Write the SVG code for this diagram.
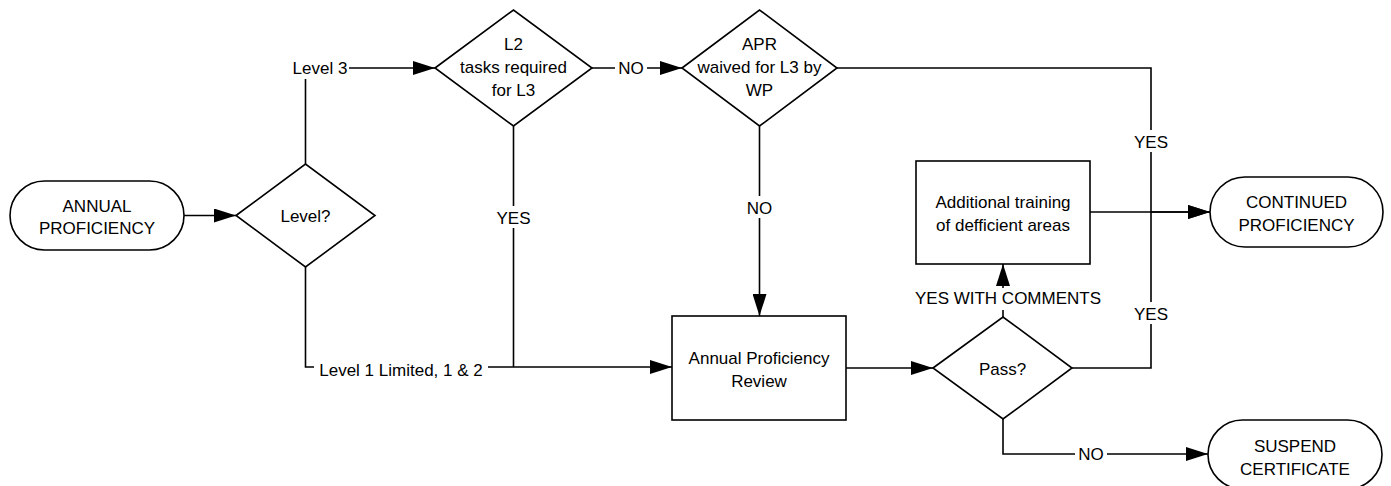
<svg xmlns="http://www.w3.org/2000/svg" width="1391" height="486" viewBox="0 0 1391 486">
<style>
.shape{fill:#fff;stroke:#000;stroke-width:1.6}
.conn{fill:none;stroke:#000;stroke-width:1.6}
text{font-family:"Liberation Sans",Arial,sans-serif;font-size:17px;fill:#000;text-anchor:middle}
.bg{fill:#fff;stroke:none}
</style>
<defs>
<marker id="arr" markerUnits="userSpaceOnUse" markerWidth="22" markerHeight="14" refX="22" refY="7" orient="auto">
<path d="M0,0 L22,7 L0,14 z" fill="#000"/>
</marker>
</defs>
<rect width="1391" height="486" fill="#fff"/>
<g id="connectors">
<path class="conn" d="M184,215.5 H236" marker-end="url(#arr)"/>
<path class="conn" d="M305.5,164 V68 H435" marker-end="url(#arr)"/>
<path class="conn" d="M305.5,267 V367 H672" marker-end="url(#arr)"/>
<path class="conn" d="M592,68 H682" marker-end="url(#arr)"/>
<path class="conn" d="M513.5,126 V367"/>
<path class="conn" d="M759.5,126 V316" marker-end="url(#arr)"/>
<path class="conn" d="M837,68 H1151 V212 H1210" marker-end="url(#arr)"/>
<path class="conn" d="M846,368 H933" marker-end="url(#arr)"/>
<path class="conn" d="M1003,317 V264" marker-end="url(#arr)"/>
<path class="conn" d="M1072,368 H1151 V212"/>
<path class="conn" d="M1003,419 V454 H1208" marker-end="url(#arr)"/>
<path class="conn" d="M1090,212 H1210" marker-end="url(#arr)"/>
<rect class="bg" x="291" y="57" width="58" height="22"/>
<text x="320" y="74">Level 3</text>
<rect class="bg" x="314" y="356" width="174" height="22"/>
<text x="401" y="376">Level 1 Limited, 1 &amp; 2</text>
<rect class="bg" x="615" y="58" width="32" height="20"/>
<text x="631" y="74">NO</text>
<rect class="bg" x="497" y="206" width="34" height="22"/>
<text x="513.5" y="224">YES</text>
<rect class="bg" x="744" y="196" width="32" height="22"/>
<text x="759.5" y="214">NO</text>
<rect class="bg" x="1134" y="130" width="34" height="22"/>
<text x="1151" y="148">YES</text>
<rect class="bg" x="1134" y="302" width="34" height="22"/>
<text x="1151" y="320">YES</text>
<rect class="bg" x="910" y="288" width="198" height="22"/>
<text x="1008" y="304">YES WITH COMMENTS</text>
<rect class="bg" x="1075" y="444" width="32" height="20"/>
<text x="1091" y="460">NO</text>
</g>
<g id="annual-proficiency">
<rect class="shape" x="10" y="181" width="174" height="69" rx="34.5"/>
<text x="97" y="212">ANNUAL</text>
<text x="97" y="234">PROFICIENCY</text>
</g>
<g id="level">
<polygon class="shape" points="236,215.5 305.5,164 375,215.5 305.5,267"/>
<text x="305.5" y="222">Level?</text>
</g>
<g id="l2-tasks">
<polygon class="shape" points="435,68 513.5,10 592,68 513.5,126"/>
<text x="513.5" y="50">L2</text>
<text x="513.5" y="73">tasks required</text>
<text x="513.5" y="96">for L3</text>
</g>
<g id="apr-waived">
<polygon class="shape" points="682,68 759.5,10 837,68 759.5,126"/>
<text x="759.5" y="50">APR</text>
<text x="759.5" y="73">waived for L3 by</text>
<text x="759.5" y="96">WP</text>
</g>
<g id="annual-review">
<rect class="shape" x="672" y="316" width="174" height="104"/>
<text x="759" y="364">Annual Proficiency</text>
<text x="759" y="387">Review</text>
</g>
<g id="pass">
<polygon class="shape" points="933,368 1003,317 1072,368 1003,419"/>
<text x="1002.5" y="375">Pass?</text>
</g>
<g id="additional-training">
<rect class="shape" x="916" y="161" width="174" height="103"/>
<text x="1003" y="208">Additional training</text>
<text x="1003" y="231">of defficient areas</text>
</g>
<g id="continued-proficiency">
<rect class="shape" x="1210" y="177" width="173" height="70" rx="35"/>
<text x="1296.5" y="208">CONTINUED</text>
<text x="1296.5" y="231">PROFICIENCY</text>
</g>
<g id="suspend-certificate">
<rect class="shape" x="1208" y="420" width="174" height="69" rx="34.5"/>
<text x="1295" y="452">SUSPEND</text>
<text x="1295" y="475">CERTIFICATE</text>
</g>
</svg>
